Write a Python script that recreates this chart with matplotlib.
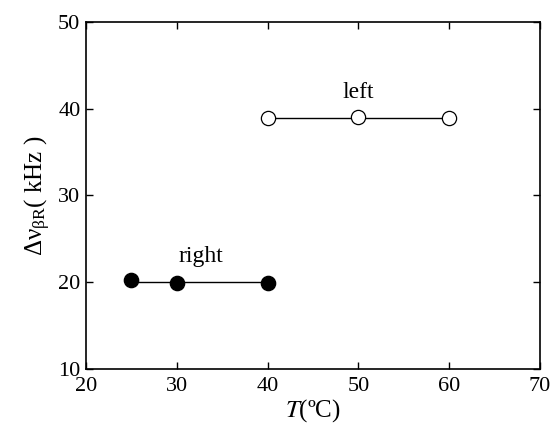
import matplotlib.pyplot as plt

plt.rcParams['font.family'] = 'Liberation Serif'
plt.rcParams['mathtext.fontset'] = 'stix'

# data
t_right = [25, 30, 40]
dv_right = [20.3, 19.9, 19.9]
t_left = [40, 50, 60]
dv_left = [38.9, 39.1, 38.9]

fig = plt.figure(figsize=(5.53, 4.33), dpi=100)
ax = fig.add_axes([0.1555, 0.148, 0.821, 0.801])

# horizontal lines at the mean value
m_right = sum(dv_right) / len(dv_right)
m_left = sum(dv_left) / len(dv_left)
ax.plot([min(t_right), max(t_right)], [m_right, m_right], color='black', lw=1, zorder=1)
ax.plot([min(t_left), max(t_left)], [m_left, m_left], color='black', lw=1, zorder=1)

ax.scatter(t_right, dv_right, s=105, c='black', zorder=2)
ax.scatter(t_left, dv_left, s=105, facecolors='white', edgecolors='black', lw=0.9, zorder=2)

ax.text(32.7, 22.3, 'right', fontsize=17, ha='center')
ax.text(50, 41.2, 'left', fontsize=17, ha='center')

ax.set_xlim(20, 70)
ax.set_ylim(10, 50)
ax.set_xticks([20, 30, 40, 50, 60, 70])
ax.set_yticks([10, 20, 30, 40, 50])
ax.tick_params(direction='in', top=True, right=True, length=5, width=1, labelsize=16)
ax.tick_params(axis='x', pad=6)
ax.tick_params(axis='y', pad=4)
for s in ax.spines.values():
    s.set_linewidth(1.2)

ax.set_xlabel(r'$T$(ºC)', fontsize=18, labelpad=1)
ax.set_ylabel(r'$\mathregular{\Delta\nu_{\beta R}}$( kHz )', fontsize=18, labelpad=4)

fig.savefig('out.png', dpi=100)
